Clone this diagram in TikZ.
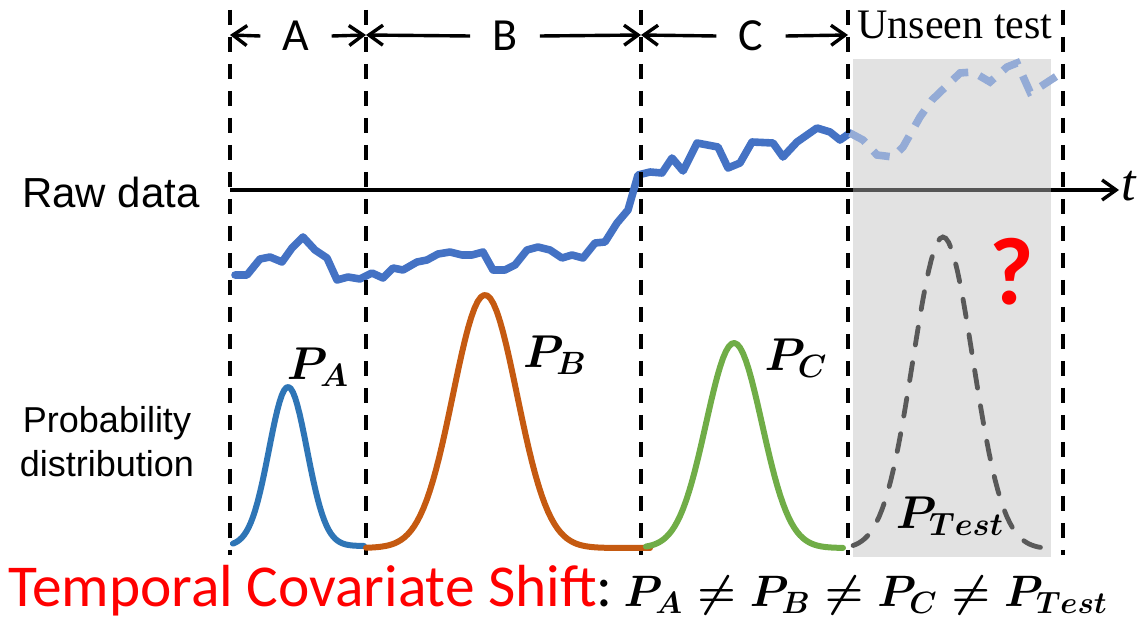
\documentclass[tikz,border=0pt]{standalone}
\usepackage{fix-cm}
\usepackage{amsmath,amssymb}
\usepackage{fontspec}
\setmainfont{Liberation Serif}
\newfontfamily\calibri{Carlito}
\newfontfamily\arial{Liberation Sans}
\definecolor{rawblue}{HTML}{4472C4}
\definecolor{fadeblue}{HTML}{94ABD6}
\definecolor{pa}{HTML}{2E75B6}
\definecolor{pb}{HTML}{C55A11}
\definecolor{pc}{HTML}{70AD47}
\definecolor{ptest}{HTML}{595959}
\definecolor{greybg}{HTML}{BEBEBE}
\usetikzlibrary{arrows.meta,positioning,calc}
\tikzset{
  >={Straight Barb[length=7pt,width=10pt]},
  divider/.style={draw=black,line width=1.7pt,dash pattern=on 7.5pt off 6pt},
  span/.style={->,line width=1.7pt},
  seg/.style={font=\calibri\fontsize{23}{28}\selectfont,inner ysep=0pt,inner xsep=11pt},
  curve/.style={line width=3pt,line join=round,line cap=round},
  rawline/.style={draw=rawblue,line width=3.8pt,line join=round,line cap=round},
  fadeline/.style={draw=fadeblue,line width=3.8pt,dash pattern=on 9pt off 6pt},
  testline/.style={draw=ptest,line width=2.4pt,line cap=round,dash pattern=on 9pt off 9pt},
  plab/.style={font=\fontsize{23}{28}\selectfont,inner sep=0pt},
  side/.style={font=\arial\fontsize{18}{22}\selectfont,align=center,inner sep=0pt},
}

\begin{document}
\begin{tikzpicture}[x=0.5pt,y=-0.5pt]
\useasboundingbox (0,0) rectangle (1147,625);

% time axis and raw series
\node[font=\fontsize{26}{30}\selectfont\itshape,inner sep=1pt,anchor=west] (tlab) at (1119,186) {t};
\coordinate (ax0) at (230,190);
\draw[->,line width=1.7pt] (ax0) -- (tlab.west |- ax0);
\node[font=\arial\fontsize{21}{25}\selectfont,inner sep=0pt] (raw) at (111,192) {Raw data};
\draw[rawline] plot coordinates {(235,275) (247,275) (260,259) (270,257) (282,262) (292,248) (303,237)
  (315,250) (327,258) (337,280) (348,277) (360,279) (372,273) (383,278) (393,268) (403,270)
  (417,262) (427,260) (438,254) (450,252) (462,255) (472,255) (483,252) (493,270) (505,270)
  (515,265) (527,250) (538,247) (550,250) (562,258) (572,255) (583,258) (595,243) (605,242)
  (617,223) (628,210) (638,175) (650,172) (662,173) (672,158) (683,171) (697,143) (718,147)
  (728,168) (740,163) (752,142) (773,143) (783,157) (797,142) (817,128) (830,132) (840,140) (850,133)};

% unseen region
\fill[greybg,fill opacity=0.45] (853,59) rectangle (1051,557);
\draw[fadeline] plot coordinates {(850,133) (863,140) (877,155) (893,157) (903,147) (920,117)
  (932,100) (960,73) (973,72) (990,82) (1007,67) (1017,63) (1030,92) (1040,87) (1063,72)};
\node[font=\fontsize{21}{25}\selectfont,inner sep=0pt] (unseen) at (955,25) {Unseen test};

% segment boundaries
\foreach \n/\px in {dA/230,dB/366,dC/641,dD/848,dE/1063}{
  \coordinate (\n top) at (\px,10);
  \coordinate (\n bot) at (\px,555);
  \coordinate (\n) at (\px,35);
  \draw[divider] (\n top) -- (\n bot);
}
\node[seg] (labA) at (296,36) {A};
\node[seg] (labB) at (505,36) {B};
\node[seg] (labC) at (751,36) {C};
\draw[span] (labA.west) -- (dA);
\draw[span] (labA.east) -- (dB);
\draw[span] (labB.west) -- (dB);
\draw[span] (labB.east) -- (dC);
\draw[span] (labC.west) -- (dC);
\draw[span] (labC.east) -- (dD);

% distributions
\node[side] (prob) at (107,442) {Probability\\distribution};
\draw[curve,pa] plot[domain=233:364,samples=60] (\x,{546-159*exp(-(((\x-288)/26.87)^2))});
\draw[curve,pb] plot[domain=366:650,samples=90] (\x,{548-253*exp(-(((\x-485)/45.25)^2))});
\draw[curve,pc] plot[domain=646:843,samples=70] (\x,{548-205*exp(-(((\x-734)/39.6)^2))});
\draw[testline] plot[domain=853:1053,samples=70] (\x,{549-312*exp(-(((\x-943)/42.43)^2))});
\node[plab] (pA) at (318,367) {$\boldsymbol{P_{A}}$};
\node[plab] (pB) at (555,355) {$\boldsymbol{P_{B}}$};
\node[plab] (pC) at (796,358) {$\boldsymbol{P_{C}}$};
\node[plab] (pT) at (950,516) {$\boldsymbol{P_{Test}}$};
\node[font=\calibri\bfseries\fontsize{48}{54}\selectfont,text=red,inner sep=0pt] (qm) at (1012,272) {?};

% caption line
\node[anchor=base west,inner sep=0pt,font=\calibri\fontsize{29.7}{35}\selectfont] (shift) at (8,607)
  {\textcolor{red}{Temporal Covariate Shift}:};
\node[anchor=base west,inner sep=0pt,font=\fontsize{22}{27}\selectfont] (ineq) at ([xshift=5pt]shift.base east)
  {$\boldsymbol{P_{A}\neq P_{B}\neq P_{C}\neq P_{Test}}$};
\end{tikzpicture}
\end{document}
